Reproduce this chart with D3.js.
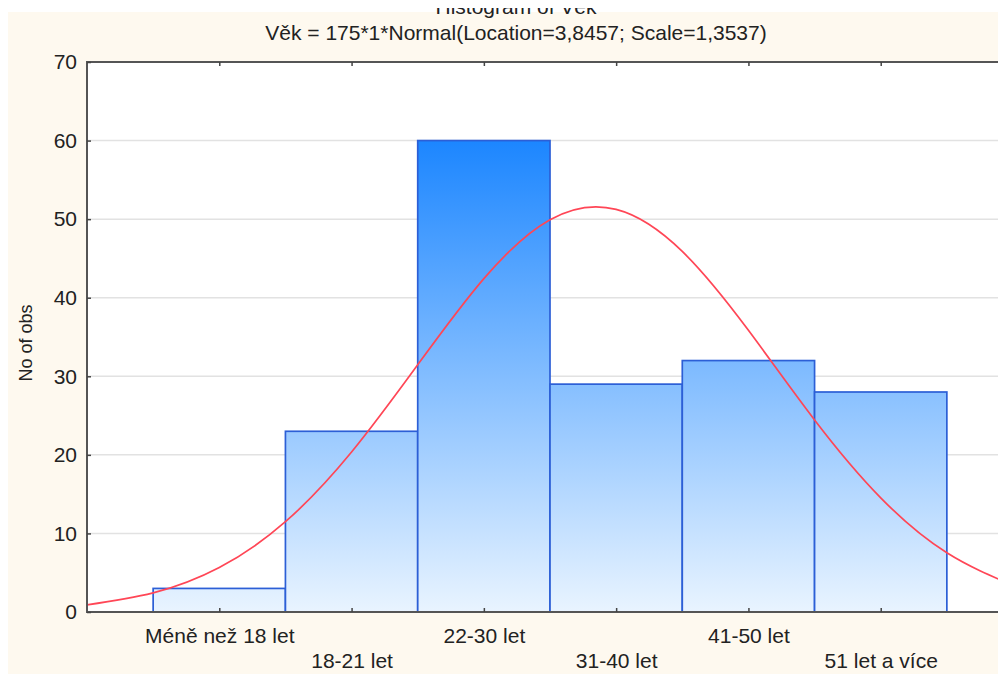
<!DOCTYPE html>
<html>
<head>
<meta charset="utf-8">
<script src="https://cdn.jsdelivr.net/npm/d3@7"></script>
<style>
  body { margin: 0; background: #fff; }
  text { font-family: "Liberation Sans", Arial, sans-serif; fill: #222; }
</style>
</head>
<body>
<div id="chart"></div>
<script>
var width = 998,
    height = 674;

// histogram data
var categories = ["Méně než 18 let", "18-21 let", "22-30 let", "31-40 let", "41-50 let", "51 let a více"];
var counts = [3, 23, 60, 29, 32, 28];
var yTicks = [0, 10, 20, 30, 40, 50, 60, 70];

// fitted normal curve (x in category units, y in obs)
var curveX = [0, 0.5, 1, 1.5, 2, 2.5, 3, 3.5, 4, 4.5, 5, 5.5, 6, 6.5, 7];
var curveY = [0.91, 2.43, 5.66, 11.49, 20.36, 31.46, 42.43, 49.92, 51.24, 45.89, 35.85, 24.44, 14.53, 7.54, 3.41];

var title = "Histogram of Věk";
var subtitle = "Věk = 175*1*Normal(Location=3,8457; Scale=1,3537)";

var margin = {left: 87, top: 62, bottom: 62};
var plotBottom = height - margin.bottom;
var fontSize = '21px';

var x = d3.scaleLinear().domain([0, 7]).range([margin.left, 1013]);
var y = d3.scaleLinear().domain([0, 70]).range([plotBottom, margin.top]);

var svg = d3.select('#chart').append('svg')
  .attr('width', width)
  .attr('height', height);

var defs = svg.append('defs');
var grad = defs.append('linearGradient')
  .attr('id', 'barGrad')
  .attr('gradientUnits', 'userSpaceOnUse')
  .attr('x1', 0).attr('x2', 0)
  .attr('y1', y(60)).attr('y2', y(0));
grad.append('stop').attr('offset', '0%').attr('stop-color', '#1c86ff');
grad.append('stop').attr('offset', '100%').attr('stop-color', '#e9f4ff');

defs.append('clipPath').attr('id', 'plotClip')
  .append('rect')
  .attr('x', margin.left).attr('y', margin.top)
  .attr('width', width - margin.left).attr('height', plotBottom - margin.top);

// background
svg.append('rect')
  .attr('x', 8).attr('y', 12)
  .attr('width', width - 8).attr('height', height - 12)
  .attr('fill', '#fef9ef');

svg.append('rect')
  .attr('x', margin.left).attr('y', margin.top)
  .attr('width', width - margin.left).attr('height', plotBottom - margin.top)
  .attr('fill', '#fff');

// titles (main title is cut off at the top)
svg.append('text')
  .attr('x', 516).attr('y', 14)
  .attr('text-anchor', 'middle')
  .style('font-size', fontSize)
  .text(title);
svg.append('rect')
  .attr('x', 0).attr('y', 0).attr('width', width).attr('height', 8)
  .attr('fill', '#fff');

svg.append('text')
  .attr('x', 516).attr('y', 40)
  .attr('text-anchor', 'middle')
  .style('font-size', fontSize)
  .text(subtitle);

// grid
svg.append('g')
  .selectAll('line')
  .data(yTicks.slice(1, -1))
  .enter().append('line')
  .attr('x1', margin.left).attr('x2', width)
  .attr('y1', function(d) { return y(d); })
  .attr('y2', function(d) { return y(d); })
  .attr('stroke', '#e2e2e2')
  .attr('stroke-width', 1.5);

// bars
var g = svg.append('g');
g.selectAll('rect')
  .data(counts)
  .enter().append('rect')
  .attr('x', function(d, i) { return x(i + 0.5); })
  .attr('y', function(d) { return y(d); })
  .attr('width', function(d, i) { return x(i + 1.5) - x(i + 0.5); })
  .attr('height', function(d) { return y(0) - y(d); })
  .attr('fill', 'url(#barGrad)')
  .attr('stroke', '#2c5fd6')
  .attr('stroke-width', 1.7);

// normal curve
var line = d3.line()
  .x(function(d) { return x(d[0]); })
  .y(function(d) { return y(d[1]); })
  .curve(d3.curveNatural);

svg.append('path')
  .datum(curveX.map(function(v, i) { return [v, curveY[i]]; }))
  .attr('clip-path', 'url(#plotClip)')
  .attr('d', line)
  .attr('fill', 'none')
  .attr('stroke', '#ff4656')
  .attr('stroke-width', 1.7);

// frame
var frame = svg.append('g').attr('stroke', '#555').attr('stroke-width', 2).attr('fill', 'none');
frame.append('line').attr('x1', margin.left).attr('x2', width).attr('y1', margin.top).attr('y2', margin.top);
frame.append('line').attr('x1', margin.left).attr('x2', width).attr('y1', plotBottom).attr('y2', plotBottom);
frame.append('line').attr('x1', margin.left).attr('x2', margin.left).attr('y1', margin.top - 1).attr('y2', plotBottom + 1);

// y axis
var yAxis = d3.axisLeft(y).tickValues(yTicks).tickSize(-4).tickPadding(10);
var ya = svg.append('g')
  .attr('transform', 'translate(' + margin.left + ',0)')
  .call(yAxis);
ya.select('.domain').remove();
ya.selectAll('line').attr('stroke', '#444').attr('stroke-width', 1.5);
ya.selectAll('text')
  .style('font-size', fontSize)
  .style('font-family', '"Liberation Sans", Arial, sans-serif')
  .attr('fill', '#222');

// x axis (ticks at category centers, staggered labels)
var xAxis = d3.axisBottom(x)
  .tickValues(d3.range(1, categories.length + 1))
  .tickSize(-4)
  .tickFormat(function(d) { return categories[d - 1]; });
var xa = svg.append('g')
  .attr('transform', 'translate(0,' + plotBottom + ')')
  .call(xAxis);
xa.select('.domain').remove();
xa.selectAll('line').attr('stroke', '#444').attr('stroke-width', 1.5);
xa.selectAll('text')
  .attr('dy', 0)
  .attr('y', function(d, i) { return i % 2 === 0 ? 31 : 56; })
  .style('font-size', fontSize)
  .style('font-family', '"Liberation Sans", Arial, sans-serif')
  .attr('fill', '#222');

// top ticks
var xTop = d3.axisTop(x)
  .tickValues(d3.range(1, categories.length + 1))
  .tickSize(-4)
  .tickFormat('');
var xt = svg.append('g')
  .attr('transform', 'translate(0,' + margin.top + ')')
  .call(xTop);
xt.select('.domain').remove();
xt.selectAll('line').attr('stroke', '#444').attr('stroke-width', 1.5);

// y label
svg.append('text')
  .attr('transform', 'translate(32,343) rotate(-90)')
  .attr('text-anchor', 'middle')
  .style('font-size', '18px')
  .text('No of obs');
</script>
</body>
</html>
